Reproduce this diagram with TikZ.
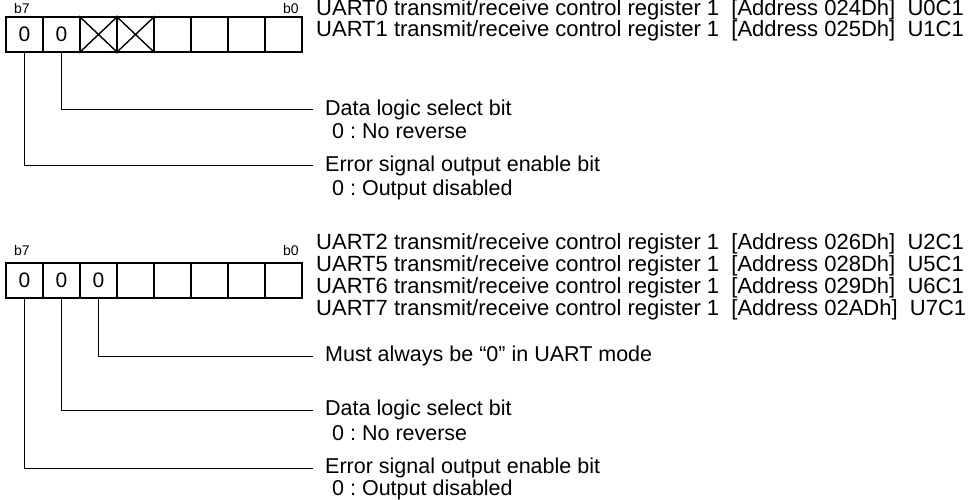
\documentclass[tikz,border=0pt]{standalone}
\usepackage{fontspec}
\setmainfont{Liberation Sans}
\frenchspacing
\begin{document}
\begin{tikzpicture}
  [x=1pt,y=-1pt,
   bitcell/.style={draw,line width=1.8pt,minimum width=37pt,minimum height=35pt,
     inner sep=0pt,font=\fontsize{21}{21}\selectfont},
   bitlabel/.style={inner sep=0pt,font=\fontsize{14}{14}\selectfont},
   regname/.style={anchor=west,inner sep=0pt,font=\fontsize{22}{22}\selectfont},
   desc/.style={anchor=west,inner ysep=0pt,inner xsep=12pt,font=\fontsize{21.5}{21.5}\selectfont},
   setting/.style={anchor=west,inner sep=0pt,font=\fontsize{21.5}{21.5}\selectfont},
   leader/.style={draw,line width=1pt}]
  \useasboundingbox (0,0) rectangle (970,500);

  % UART0, UART1
  \node[bitlabel] (atop7) at (22,8) {b7};
  \node[bitlabel] (atop0) at (291,8) {b0};
  \foreach \i/\v in {7/0,6/0,5/,4/,3/,2/,1/,0/}
    \node[bitcell] (a\i) at ({24.5+(7-\i)*37},34.5) {\v};
  \foreach \i in {5,4}
    \draw[line width=1.4pt] (a\i.north west) -- (a\i.south east)
                            (a\i.south west) -- (a\i.north east);
  \node[regname] (u0) at (316,10) {UART0 transmit/receive control register 1\ \ [Address 024Dh]\ \ U0C1};
  \node[regname] (u1) at (316,31) {UART1 transmit/receive control register 1\ \ [Address 025Dh]\ \ U1C1};
  \node[desc] (dlsa) at (313,110) {Data logic select bit};
  \node[setting] (dlsa0) at (332,131) {0 : No reverse};
  \node[desc] (esa) at (313,166) {Error signal output enable bit};
  \node[setting] (esa0) at (332,190) {0 : Output disabled};
  \path[leader] (a6.south) |- (dlsa.west);
  \path[leader] (a7.south) |- (esa.west);

  % UART2, UART5, UART6, UART7
  \node[bitlabel] (btop7) at (22,250) {b7};
  \node[bitlabel] (btop0) at (291,250) {b0};
  \foreach \i/\v in {7/0,6/0,5/0,4/,3/,2/,1/,0/}
    \node[bitcell] (b\i) at ({24.5+(7-\i)*37},280.5) {\v};
  \node[regname] (u2) at (316,244) {UART2 transmit/receive control register 1\ \ [Address 026Dh]\ \ U2C1};
  \node[regname] (u5) at (316,266) {UART5 transmit/receive control register 1\ \ [Address 028Dh]\ \ U5C1};
  \node[regname] (u6) at (316,288) {UART6 transmit/receive control register 1\ \ [Address 029Dh]\ \ U6C1};
  \node[regname] (u7) at (316,310) {UART7 transmit/receive control register 1\ \ [Address 02ADh]\ \ U7C1};
  \node[desc] (mab) at (313,356) {Must always be “0” in UART mode};
  \node[desc] (dlsb) at (313,410) {Data logic select bit};
  \node[setting] (dlsb0) at (332,433) {0 : No reverse};
  \node[desc] (esb) at (313,468) {Error signal output enable bit};
  \node[setting] (esb0) at (332,490) {0 : Output disabled};
  \path[leader] (b5.south) |- (mab.west);
  \path[leader] (b6.south) |- (dlsb.west);
  \path[leader] (b7.south) |- (esb.west);
\end{tikzpicture}
\end{document}
